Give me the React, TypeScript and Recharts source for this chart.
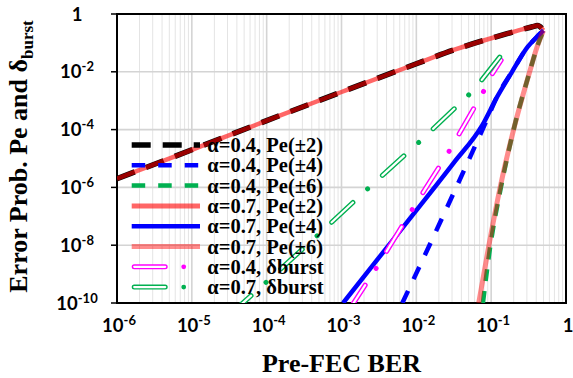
import React from "react";
import { LineChart, Line, XAxis, YAxis, CartesianGrid, ReferenceArea, Legend } from "recharts";

// Pre-FEC BER (x) and error probability (y)

// Pe(±2): the α=0.4 and α=0.7 curves lie on top of each other
const pe2Ber = [1e-6, 1e-5, 1e-4, 1e-3, 1e-2, 0.0316, 0.1, 0.163, 0.245, 0.355, 0.417, 0.5];
const pe2 = [2.0e-6, 2.0e-5, 2.04e-4, 2.0e-3, 1.9e-2, 5.7e-2, 0.145, 0.209, 0.282, 0.363, 0.398, 0.27];

const pe4a04Ber = [6.5e-3, 0.0222, 0.0863, 0.123, 0.195, 0.309, 0.398, 0.5];
const pe4a04 = [1e-10, 8.9e-8, 2.0e-4, 1.58e-3, 0.0112, 0.074, 0.151, 0.27];

const pe4a07Ber = [1.05e-3, 3.16e-3, 0.01, 0.0316, 0.0759, 0.12, 0.19, 0.309, 0.398, 0.5];
const pe4a07 = [1e-10, 3.7e-9, 1.6e-7, 7.1e-6, 1.4e-4, 1.35e-3, 0.01, 0.074, 0.151, 0.27];

const pe6a04Ber = [0.0776, 0.0977, 0.135, 0.1995, 0.327, 0.412, 0.5];
const pe6a04 = [1e-10, 1e-8, 1e-6, 1e-4, 0.01, 0.074, 0.27];

const pe6a07Ber = [0.0682, 0.0933, 0.1318, 0.1995, 0.327, 0.412, 0.5];
const pe6a07 = [1e-10, 1e-8, 1e-6, 1e-4, 0.01, 0.074, 0.27];

const burstA04Ber = [1.41e-3, 2.9e-3, 8.7e-3, 0.027, 0.0776, 0.0977, 0.136];
const burstA04 = [8.9e-11, 1.58e-9, 1.62e-7, 1.66e-5, 1.9e-3, 6.8e-3, 0.0251];

const burstA07Ber = [3.98e-5, 9.8e-5, 4.7e-4, 2.19e-3, 0.0105, 0.049, 0.07, 0.133];
const burstA07 = [6.5e-11, 5.2e-10, 2.1e-8, 8.5e-7, 3.4e-5, 1.48e-3, 4.2e-3, 0.0347];

const xTicks = [1e-6, 1e-5, 1e-4, 1e-3, 1e-2, 1e-1, 1];
const yTicks = [1e-10, 1e-8, 1e-6, 1e-4, 1e-2, 1];

const legendNames = [
  "α=0.4, Pe(±2)",
  "α=0.4, Pe(±4)",
  "α=0.4, Pe(±6)",
  "α=0.7, Pe(±2)",
  "α=0.7, Pe(±4)",
  "α=0.7, Pe(±6)",
  "α=0.4, δburst",
  "α=0.7, δburst",
];

const SERIF = "'Liberation Serif', 'Times New Roman', serif";
const SANS = "Lato, 'Liberation Sans', sans-serif";
const RED = "#ff0000";
const BLUE = "#0000ff";
const GREEN = "#00b050";
const MAGENTA = "#ff00ff";

const pts = (xs: number[], ys: number[]) => xs.map((x, i) => ({ x, y: ys[i] }));

// minor grid at 2..9 x 10^k
const minorX: number[] = [];
for (let k = -6; k < 0; k++) {
  for (let m = 2; m <= 9; m++) minorX.push(m * Math.pow(10, k));
}

const expOf = (v: number) => Math.round(Math.log10(v));

function PowText({ x, y, v }: { x: number; y: number; v: number }) {
  const e = expOf(v);
  return (
    <text x={x} y={y} textAnchor="middle" fontFamily={SANS} fontWeight={700} fontSize={18.5} fill="#000">
      {e === 0 ? "1" : (
        <>
          10<tspan fontSize={13} dy={-7}>{e}</tspan>
        </>
      )}
    </text>
  );
}

function XTick(props: any) {
  const { x, payload } = props;
  return <PowText x={x + 2} y={332} v={payload.value} />;
}

function YTick(props: any) {
  const { y, payload } = props;
  return <PowText x={77} y={y + 6.5} v={payload.value} />;
}

type Sample = { kind: "line"; color: string; width: number; dash?: string; opacity?: number } | { kind: "burst"; color: string };

const samples: Sample[] = [
  { kind: "line", color: "#000", width: 5.5, dash: "19 12" },
  { kind: "line", color: BLUE, width: 4.5, dash: "13.5 13" },
  { kind: "line", color: GREEN, width: 4.5, dash: "13.5 13" },
  { kind: "line", color: RED, width: 5, opacity: 0.6 },
  { kind: "line", color: BLUE, width: 4.5 },
  { kind: "line", color: RED, width: 5, opacity: 0.45 },
  { kind: "burst", color: MAGENTA },
  { kind: "burst", color: GREEN },
];

function LegendBox() {
  return (
    <svg width={240} height={170} style={{ display: "block", overflow: "visible" }}>
      {legendNames.map((name, i) => {
        const cy = 13 + i * 20.3;
        const s = samples[i];
        return (
          <g key={name}>
            {s.kind === "burst" ? (
              <g>
                <line x1={6.2} x2={37.2} y1={cy} y2={cy} stroke={s.color} strokeWidth={5} strokeLinecap="round" />
                <line x1={6.2} x2={37.2} y1={cy} y2={cy} stroke="#fff" strokeWidth={2.2} strokeLinecap="round" />
                <circle cx={55.7} cy={cy} r={2.4} fill={s.color} />
              </g>
            ) : (
              <line x1={3.7} x2={72} y1={cy} y2={cy} stroke={s.color} strokeOpacity={s.opacity ?? 1} strokeWidth={s.width} strokeDasharray={s.dash} />
            )}
            <text x={79.3} y={cy + 7} fontFamily={SERIF} fontWeight={700} fontSize={20.5} fill="#000">
              {name}
            </text>
          </g>
        );
      })}
    </svg>
  );
}

export default function App() {
  return (
    <div style={{ position: "absolute", left: 0, top: 0, width: 573, height: 378, background: "#fff" }}>
      <LineChart width={573} height={378} margin={{ top: 14, right: 7, bottom: 0, left: 0 }}>
        <CartesianGrid horizontal={false} verticalValues={minorX} stroke="#e4e4e4" strokeWidth={1} />
        <CartesianGrid verticalValues={xTicks} horizontalValues={[1e-8, 1e-6, 1e-4, 1e-2]} stroke="#d4d4d4" strokeWidth={1.6} />
        <XAxis
          dataKey="x"
          type="number"
          scale="log"
          domain={[1e-6, 1]}
          ticks={xTicks}
          interval={0}
          allowDataOverflow
          tick={XTick}
          tickLine={false}
          axisLine={false}
          height={75}
          label={() => (
            <text x={341.5} y={371.5} textAnchor="middle" fontFamily={SERIF} fontWeight={700} fontSize={26} fill="#000">
              Pre-FEC BER
            </text>
          )}
        />
        <YAxis
          type="number"
          scale="log"
          domain={[1e-10, 1]}
          ticks={yTicks}
          interval={0}
          allowDataOverflow
          width={117}
          tick={YTick}
          tickSize={6}
          tickLine={{ stroke: "#000", strokeWidth: 1.5 }}
          axisLine={false}
          label={() => (
            <text
              x={27}
              y={156.5}
              transform="rotate(-90, 27, 156.5)"
              textAnchor="middle"
              fontFamily={SERIF}
              fontWeight={700}
              fontSize={26}
              fill="#000"
            >
              Error Prob. Pe and δ<tspan fontSize={17} dy={6}>burst</tspan>
            </text>
          )}
        />

        <Line name="α=0.4, Pe(±2)" data={pts(pe2Ber, pe2)} dataKey="y" type="monotoneX" stroke="#000" strokeWidth={5.5} strokeDasharray="19 12" dot={false} activeDot={false} isAnimationActive={false} />
        <Line name="α=0.4, Pe(±4)" data={pts(pe4a04Ber, pe4a04)} dataKey="y" type="monotoneX" stroke={BLUE} strokeWidth={4.5} strokeDasharray="13.5 13" dot={false} activeDot={false} isAnimationActive={false} />
        <Line name="α=0.4, Pe(±6)" data={pts(pe6a04Ber, pe6a04)} dataKey="y" type="monotoneX" stroke={GREEN} strokeWidth={4.5} strokeDasharray="12 10" dot={false} activeDot={false} isAnimationActive={false} />
        <Line name="α=0.7, Pe(±2)" data={pts(pe2Ber, pe2)} dataKey="y" type="monotoneX" stroke={RED} strokeOpacity={0.6} strokeWidth={4.5} dot={false} activeDot={false} isAnimationActive={false} />
        <Line name="α=0.7, Pe(±4)" data={pts(pe4a07Ber, pe4a07)} dataKey="y" type="monotoneX" stroke={BLUE} strokeWidth={4.5} dot={false} activeDot={false} isAnimationActive={false} />
        <Line name="α=0.7, Pe(±6)" data={pts(pe6a07Ber, pe6a07)} dataKey="y" type="monotoneX" stroke={RED} strokeOpacity={0.45} strokeWidth={5} dot={false} activeDot={false} isAnimationActive={false} />

        <Line name="α=0.4, δburst" data={pts(burstA04Ber, burstA04)} dataKey="y" type="linear" stroke={MAGENTA} strokeWidth={5} strokeLinecap="round" strokeDasharray="29 20 0.01 20" strokeDashoffset={6} dot={false} activeDot={false} isAnimationActive={false} />
        <Line name="α=0.4, δburst inner" data={pts(burstA04Ber, burstA04)} dataKey="y" type="linear" stroke="#fff" strokeWidth={2.2} strokeLinecap="round" strokeDasharray="29 40.01" strokeDashoffset={6} dot={false} activeDot={false} isAnimationActive={false} legendType="none" />
        <Line name="α=0.7, δburst" data={pts(burstA07Ber, burstA07)} dataKey="y" type="linear" stroke={GREEN} strokeWidth={5} strokeLinecap="round" strokeDasharray="29 20 0.01 20" strokeDashoffset={9.8} dot={false} activeDot={false} isAnimationActive={false} />
        <Line name="α=0.7, δburst inner" data={pts(burstA07Ber, burstA07)} dataKey="y" type="linear" stroke="#fff" strokeWidth={2.2} strokeLinecap="round" strokeDasharray="29 40.01" strokeDashoffset={9.8} dot={false} activeDot={false} isAnimationActive={false} legendType="none" />

        <ReferenceArea x1={1e-6} x2={1} y1={1e-10} y2={1} fill="none" stroke="#000" strokeWidth={2} />
        <Legend
          layout="vertical"
          align="center"
          verticalAlign="middle"
          content={() => <LegendBox />}
          wrapperStyle={{ left: 128, top: 132, width: 240, height: 170 }}
        />
      </LineChart>
    </div>
  );
}
